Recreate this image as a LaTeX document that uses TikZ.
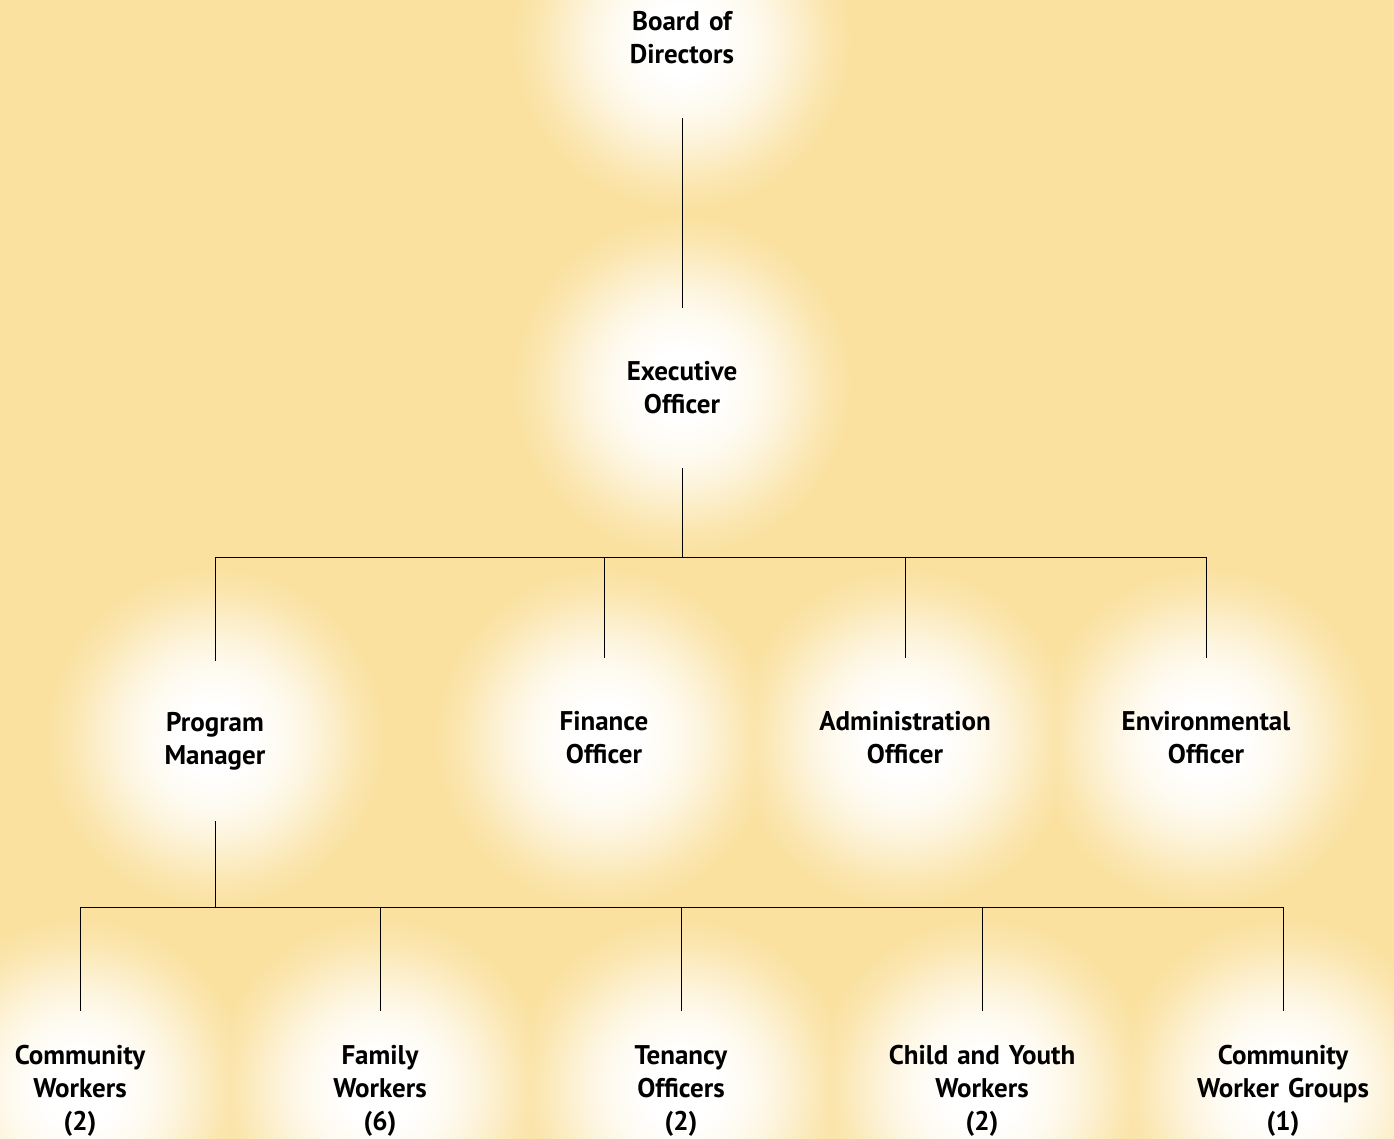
\documentclass[tikz,border=0pt]{standalone}
\usepackage{fontspec}
\setmainfont{PT Sans}
\usetikzlibrary{positioning}
\definecolor{bgyellow}{HTML}{FAE1A0}
\pgfdeclareradialshading{glow}{\pgfpoint{0bp}{0bp}}{color(0bp)=(white); color(5bp)=(white); color(10bp)=(bgyellow!14!white); color(14bp)=(bgyellow!34!white); color(18bp)=(bgyellow!60!white); color(21.5bp)=(bgyellow!84!white); color(25bp)=(bgyellow); color(50bp)=(bgyellow)}
\tikzstyle{post} = [text width=240pt,align=center,inner sep=0pt,minimum height=160pt,font=\bfseries\fontsize{27}{33}\selectfont]
\tikzstyle{link} = [black,line width=0.9pt]

\begin{document}
\begin{tikzpicture}[x=1pt,y=-1pt]
\useasboundingbox (0,0) rectangle (1394,1138);
\clip (-3,-3) rectangle (1397,1141);
\fill[bgyellow] (-3,-3) rectangle (1397,1141);

% glow behind every post
\foreach \x/\y in {682/40,682/385,215/738,604/738,905/738,1206/738,80/1088,380/1088,681/1088,982/1088,1283/1088}
  \shade[shading=glow,blend mode=lighten] (\x,\y) circle (170);

\node[post] (board) at (682,38) {Board of\\Directors};
\node[post] (exec) at (682,388) {Executive\\Officer};

\node[post] (prog) at (215,741) {Program\\Manager};
\node[post] (fin) at (604,738) {Finance\\Officer};
\node[post] (admin) at (905,738) {Administration\\Officer};
\node[post] (env) at (1206,738) {Environmental\\Officer};

\node[post] (comm) at (80,1091) {Community\\Workers\\(2)};
\node[post] (fam) at (380,1091) {Family\\Workers\\(6)};
\node[post] (ten) at (681,1091) {Tenancy\\Officers\\(2)};
\node[post] (child) at (982,1091) {Child and Youth\\Workers\\(2)};
\node[post] (group) at (1283,1091) {Community\\Worker Groups\\(1)};

\coordinate (split1) at (682,557);
\coordinate (split2) at (215,907);

\draw[link] (board) -- (exec);
\draw[link] (exec) -- (split1);
\foreach \n in {prog,fin,admin,env}
  \draw[link] (split1) -| (\n.north);
\draw[link] (prog) -- (split2);
\foreach \n in {comm,fam,ten,child,group}
  \draw[link] (split2) -| (\n.north);
\end{tikzpicture}
\end{document}
